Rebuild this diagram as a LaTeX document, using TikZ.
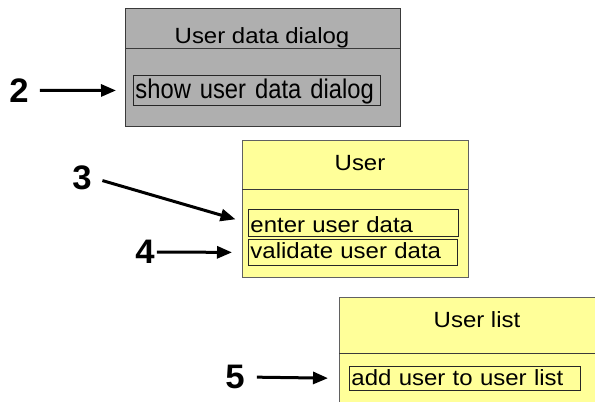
\documentclass[tikz,border=0pt]{standalone}
\usepackage{fontspec}
\setmainfont{Liberation Sans}
\newfontfamily\labfont[FakeStretch=1.09]{Liberation Sans}
\newfontfamily\bigfont[FakeStretch=0.88]{Liberation Sans}
\newfontfamily\numfont[FakeStretch=1.02]{Liberation Sans}
\usetikzlibrary{arrows.meta}
\definecolor{clsgray}{HTML}{AFAFAF}
\definecolor{clsyellow}{HTML}{FFFF99}
\definecolor{edge}{HTML}{3A3A3A}
\tikzset{
  graycls/.style={draw=edge, line width=0.9pt, fill=clsgray, anchor=north west, inner sep=0pt},
  yelcls/.style={draw=edge!80, line width=0.9pt, fill=clsyellow, anchor=north west, inner sep=0pt},
  divline/.style={draw=edge, line width=0.9pt},
  ttl/.style={anchor=base, inner sep=0pt, font=\labfont\fontsize{22}{25}\selectfont},
  opbox/.style={draw=black!85, line width=0.9pt, anchor=north west, inner ysep=0pt, inner xsep=2pt,
    align=left, font=\labfont\fontsize{22}{25}\selectfont},
  num/.style={inner sep=0pt, font=\numfont\bfseries\fontsize{34}{37}\selectfont},
  arr/.style={line width=3pt, -{Triangle[length=15pt,width=12pt]}}
}
\begin{document}
\begin{tikzpicture}[x=1pt,y=-1pt]
\useasboundingbox (0,0) rectangle (595,402);
\clip (0,0) rectangle (595,402);

% User data dialog
\node[graycls, minimum width=275pt, minimum height=118pt] (dlg) at (125,8) {};
\draw[divline] (125,48) -- (400,48);
\node[ttl] (dlgT) at (262,43) {User data dialog};
\node[opbox, minimum width=247pt, minimum height=30pt, text width=243pt,
      text height=23pt, text depth=7pt, font=\bigfont\fontsize{27}{30}\selectfont] (sud) at (133,75) {\mbox{show user data dialog}};

% User
\node[yelcls, minimum width=226pt, minimum height=137pt] (usr) at (242,140) {};
\draw[divline] (242,189) -- (468,189);
\node[ttl] (usrT) at (360,170) {User};
\node[opbox, minimum width=210pt, minimum height=27pt, text width=206pt,
      text height=23pt, text depth=4pt] (eud) at (248,209) {enter user data};
\node[opbox, minimum width=209pt, minimum height=26pt, text width=205pt,
      text height=19pt, text depth=7pt] (vud) at (248,239) {validate user data};

% User list
\node[yelcls, minimum width=300pt, minimum height=150pt] (ulist) at (339,297) {};
\draw[divline] (339,353) -- (610,353);
\node[ttl] (ulT) at (477,327) {User list};
\node[opbox, minimum width=231pt, minimum height=24pt, text width=227pt,
      text height=19pt, text depth=5pt] (aul) at (349,366) {add user to user list};

% step numbers
\node[num] (n2) at (19,90.5) {2};
\node[num] (n3) at (82,177.5) {3};
\node[num] (n4) at (145,252) {4};
\node[num] (n5) at (235,377) {5};

% arrows
\draw[arr, shorten <=11pt, shorten >=17pt] (n2.east) -- (sud.west);
\draw[arr, shorten <=11pt, shorten >=13pt] (n3.east) -- (eud.west);
\draw[arr, shorten <=2pt, shorten >=16pt] (n4.east) -- (vud.west);
\draw[arr, shorten <=12pt, shorten >=21pt] (n5.east) -- (aul.west);
\end{tikzpicture}
\end{document}
